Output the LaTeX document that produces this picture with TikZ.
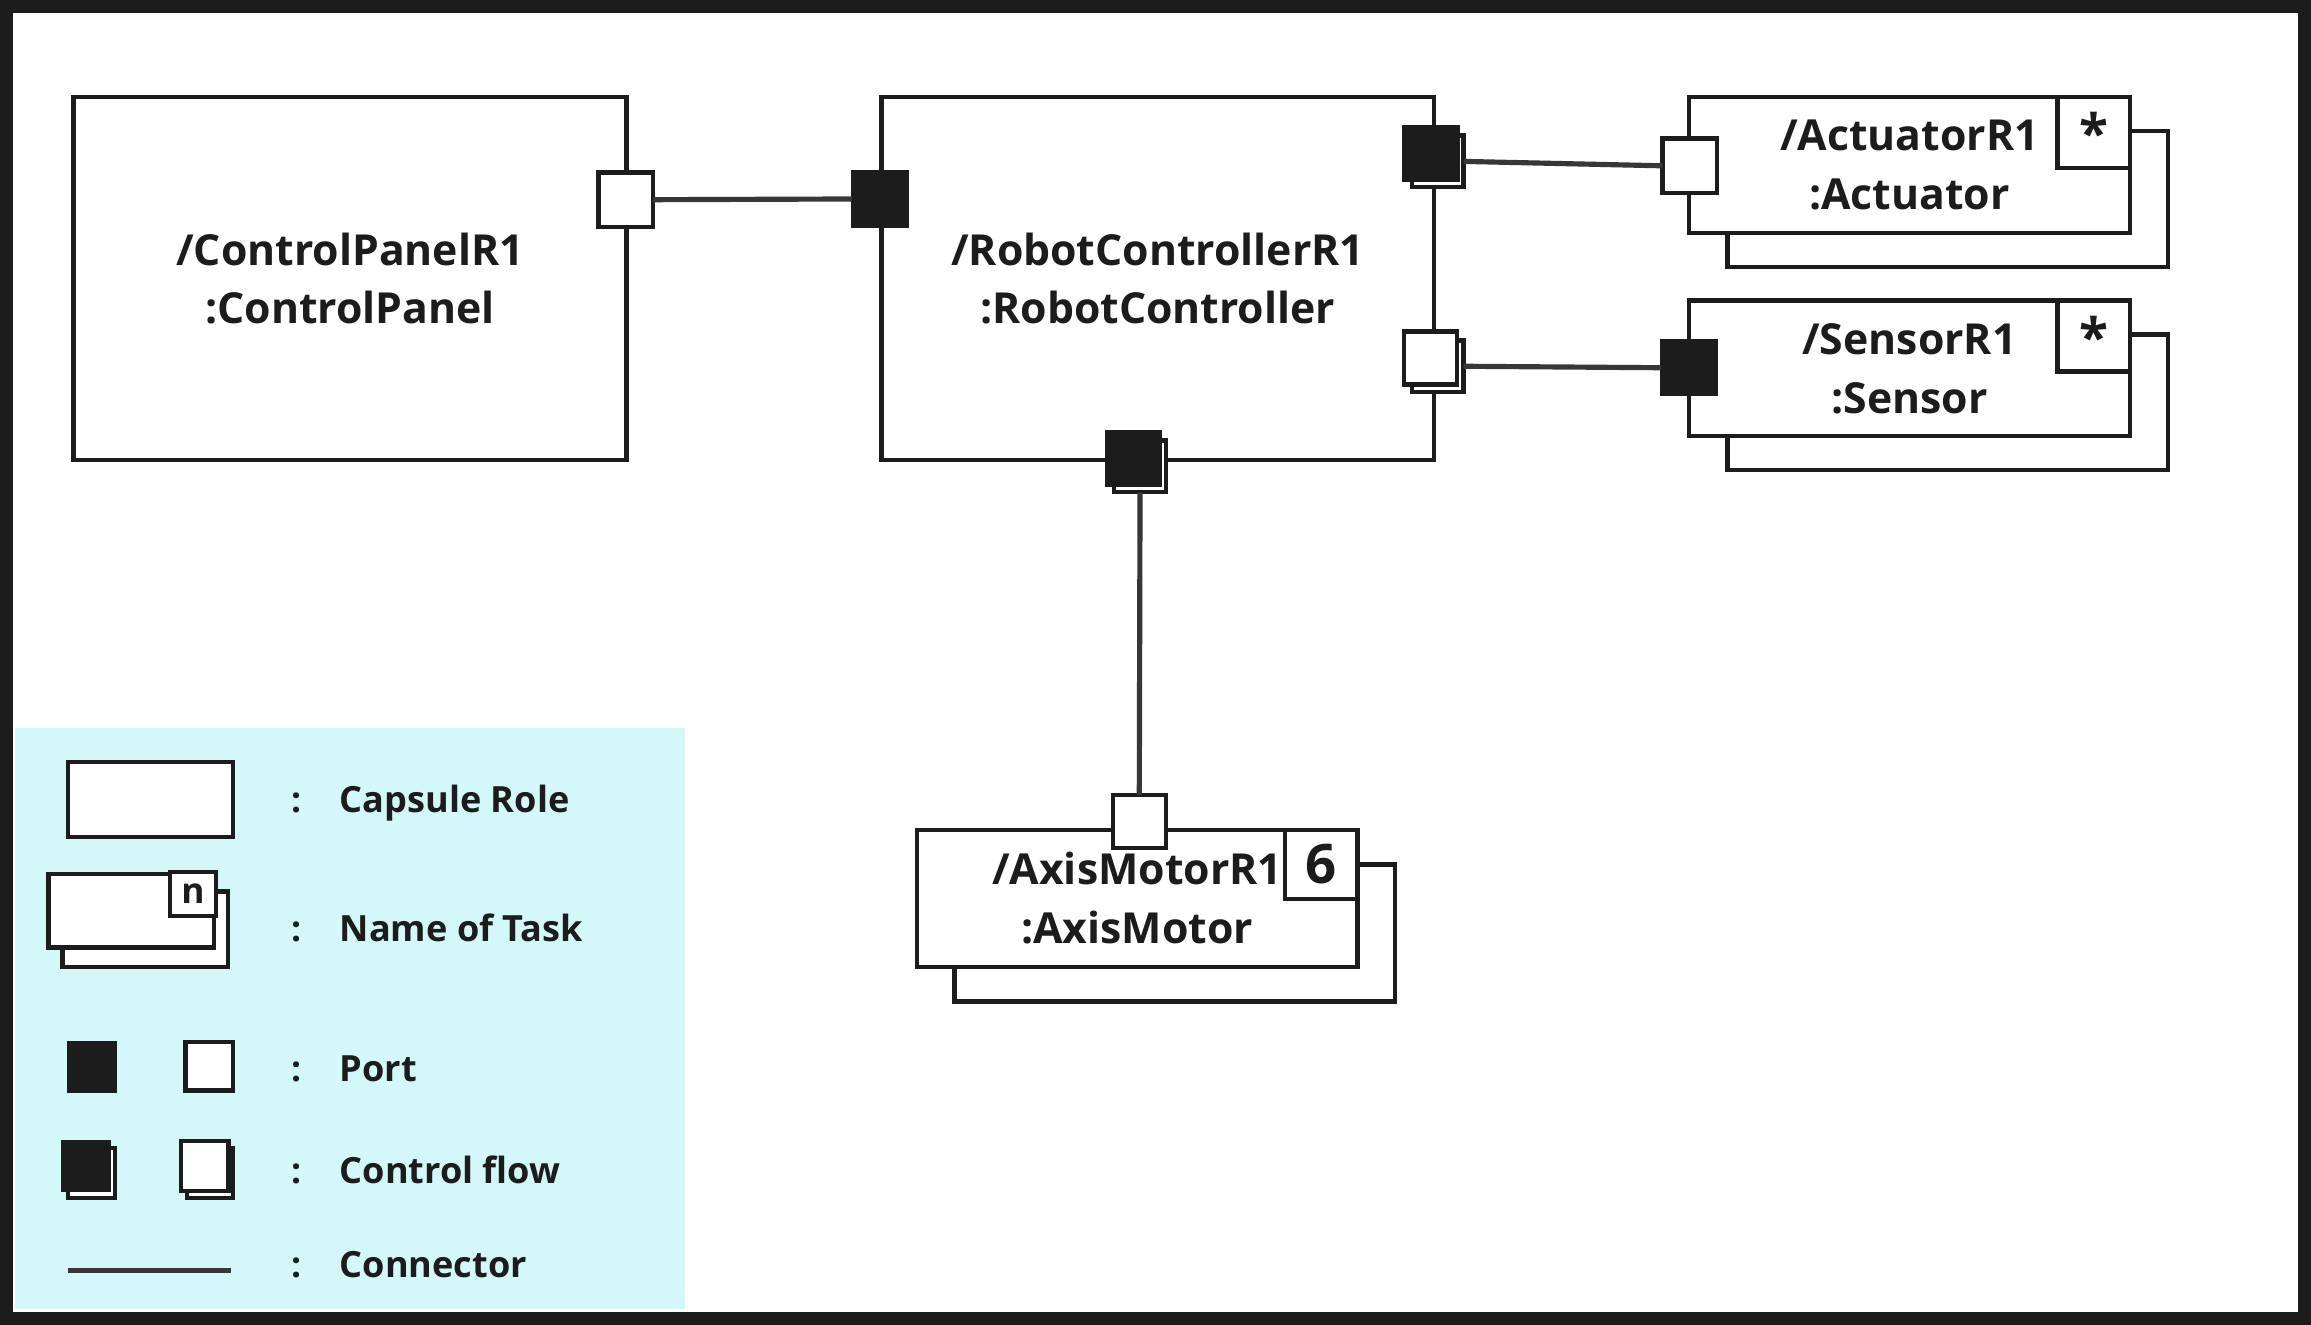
\documentclass[tikz,border=0pt]{standalone}
\usepackage{fontspec}
\setmainfont{Open Sans}
\definecolor{inkc}{RGB}{28,28,28}
\definecolor{connc}{RGB}{55,55,55}
\definecolor{legendc}{RGB}{212,248,249}
\begin{document}
\begin{tikzpicture}[x=1pt,y=-1pt,
  ink/.style={draw=inkc, line width=3pt},
  capsule/.style={ink, fill=white, inner sep=0pt, outer sep=0pt, align=center,
    font=\bfseries\fontsize{29}{40}\selectfont, text=inkc},
  multbox/.style={ink, fill=white, inner sep=0pt, outer sep=0pt, anchor=north east, text=inkc},
  portw/.style={ink, fill=white, inner sep=0pt, outer sep=0pt, minimum size=37pt},
  portb/.style={draw=inkc, fill=inkc, line width=1pt, inner sep=0pt, outer sep=0pt, minimum size=37pt},
  conn/.style={draw=connc, line width=3.5pt},
  legtext/.style={anchor=base west, font=\bfseries\fontsize{24.5}{28}\selectfont, text=inkc},
  colon/.style={anchor=base, font=\bfseries\fontsize{24}{28}\selectfont, text=inkc},
]
\useasboundingbox (0,0) rectangle (1568,899);
\fill[white] (0,0) rectangle (1568,899);
% legend background
\fill[legendc] (10,494) rectangle (465,888);

% ControlPanel
\node[capsule, minimum width=375pt, minimum height=246pt] (cp) at (237.5,189) {/ControlPanelR1\\:ControlPanel};
\node[portw] (cpP) at (424.5,135.5) {};

% RobotController
\node[capsule, minimum width=375pt, minimum height=246pt] (rc) at (785.5,189) {/RobotControllerR1\\:RobotController};
\node[portb, minimum size=38pt] (rcL) at (597,135) {};
\node[portw, minimum size=35pt] (rcAb) at (975.5,109.5) {};
\node[portb, minimum size=38pt] (rcA) at (971,104) {};
\node[portw, minimum size=35pt] (rcSb) at (975.5,248.5) {};
\node[portw, minimum size=36pt] (rcS) at (970.5,243) {};
\node[portw, minimum size=35pt] (rcDb) at (773.5,316.5) {};
\node[portb, minimum size=38pt] (rcD) at (769,311) {};

% Actuator
\node[ink, fill=white, minimum width=299pt, minimum height=92pt] (actB) at (1321.5,135) {};
\node[capsule, minimum width=299pt, minimum height=92pt] (act) at (1295.5,112) {/ActuatorR1\\:Actuator};
\node[multbox, minimum width=49pt, minimum height=48pt, font=\bfseries\fontsize{36}{36}\selectfont] (actM) at (act.north east) {*};
\node[portw] (actP) at (1146.5,112.5) {};

% Sensor
\node[ink, fill=white, minimum width=299pt, minimum height=92pt] (senB) at (1321.5,273) {};
\node[capsule, minimum width=299pt, minimum height=92pt] (sen) at (1295.5,250) {/SensorR1\\:Sensor};
\node[multbox, minimum width=49pt, minimum height=48pt, font=\bfseries\fontsize{36}{36}\selectfont] (senM) at (sen.north east) {*};
\node[portb, minimum size=38pt] (senP) at (1146,249.5) {};

% AxisMotor
\node[ink, fill=white, minimum width=299pt, minimum height=93pt] (axB) at (797,633) {};
\node[capsule, minimum width=299pt, minimum height=93pt] (ax) at (771.5,609.5) {/AxisMotorR1\\:AxisMotor};
\node[multbox, minimum width=49pt, minimum height=47pt, font=\bfseries\fontsize{37}{37}\selectfont] (axM) at (ax.north east) {6};
\node[portw, minimum size=36pt] (axP) at (773,557.5) {};

% connectors
\draw[conn] (cpP.east) -- (rcL.west);
\draw[conn] (rcAb.east) -- (actP.west);
\draw[conn] (rcSb.east) -- (senP.west);
\draw[conn] (rcDb.south) -- (axP.north);

% legend
\node[ink, fill=white, minimum width=112pt, minimum height=51pt] (lgCap) at (102,542.5) {};
\node[ink, fill=white, minimum width=112pt, minimum height=51pt] (lgTaskB) at (98.5,630.5) {};
\node[ink, fill=white, minimum width=112pt, minimum height=50pt] (lgTask) at (89,618) {};
\node[multbox, minimum width=31pt, minimum height=30pt, font=\bfseries\fontsize{24}{24}\selectfont] (lgN) at (lgTask.north east) {n};
\node[portb, minimum width=33pt, minimum height=34pt] (lgPb) at (62.5,724) {};
\node[portw, minimum width=32pt, minimum height=33pt] (lgPw) at (142,723.5) {};
\node[portw, minimum width=32pt, minimum height=34pt] (lgCbB) at (62,796) {};
\node[portb, minimum width=33pt, minimum height=34pt] (lgCb) at (58.5,791) {};
\node[portw, minimum width=31pt, minimum height=34pt] (lgCwB) at (142.5,796) {};
\node[portw, minimum width=32pt, minimum height=34pt] (lgCw) at (139,791) {};
\coordinate (lgL1) at (46,862);
\coordinate (lgL2) at (157,862);
\draw[conn] (lgL1) -- (lgL2);

\node[colon] (c1) at (201,551) {:};
\node[colon] (c2) at (201,639) {:};
\node[colon] (c3) at (201,734) {:};
\node[colon] (c4) at (201,803) {:};
\node[colon] (c5) at (201,867) {:};
\node[legtext] (t1) at (227,551) {Capsule Role};
\node[legtext] (t2) at (227,639) {Name of Task};
\node[legtext] (t3) at (227,734) {Port};
\node[legtext] (t4) at (227,803) {Control flow};
\node[legtext] (t5) at (227,867) {Connector};

% outer frame
\draw[draw=inkc, line width=9pt] (4.5,4.5) rectangle (1563.5,894.5);
\end{tikzpicture}
\end{document}
